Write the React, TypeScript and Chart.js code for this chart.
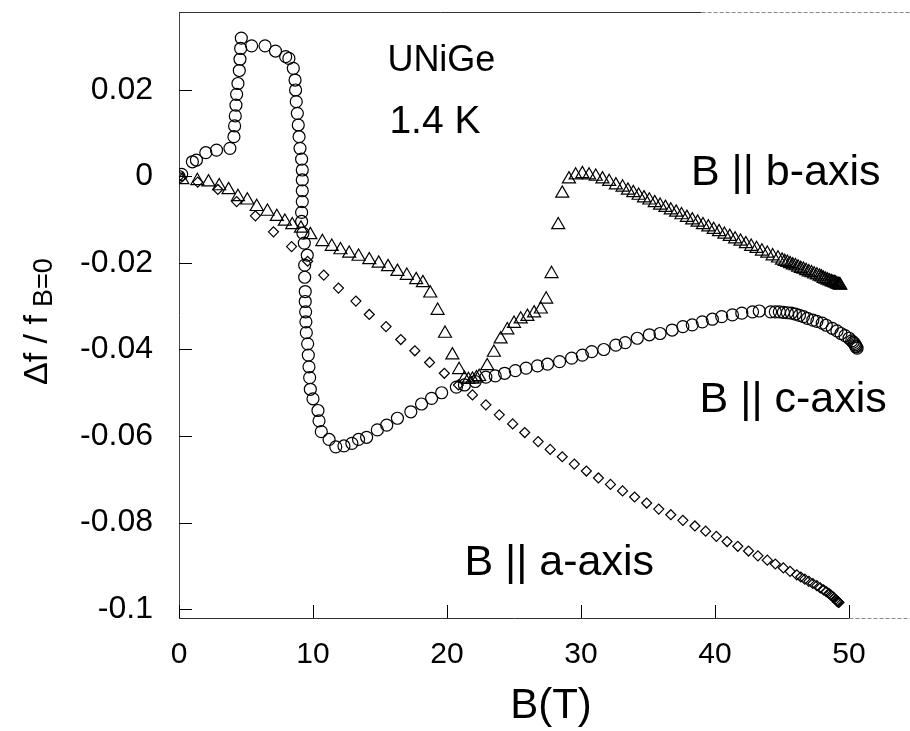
import { useEffect, useRef } from "react";
import { Chart, registerables } from "chart.js";

Chart.register(...registerables);

// Axis ticks
const X_TICKS = [0, 10, 20, 30, 40, 50];
const Y_TICKS = [-0.1, -0.08, -0.06, -0.04, -0.02, 0, 0.02];
const Y_TICK_LABELS = ["-0.1", "-0.08", "-0.06", "-0.04", "-0.02", "0", "0.02"];

// B || c-axis (circles): field B (T) and Δf / f
const C_AXIS_B = [
  0, 0.2, 1.0, 1.3, 2.0, 2.8, 3.8, 4.1, 4.15, 4.2, 4.25, 4.3, 4.4, 4.5, 4.55, 4.6, 4.65,
  5.42, 6.42, 7.2, 7.96, 8.2, 8.53, 8.66, 8.7, 8.75, 8.83, 8.9, 8.96, 9.03, 9.15, 9.2, 9.2,
  9.2, 9.2, 9.15, 9.15, 9.25, 9.35, 9.57, 9.38, 9.38, 9.42, 9.42, 9.45, 9.47, 9.5, 9.6,
  9.65, 9.7, 9.75, 9.8, 10.0, 10.37, 10.45, 10.62, 11.2, 11.7, 12.31, 12.9, 13.4, 14.0,
  14.8, 15.5, 16.3, 17.3, 18.1, 18.85, 19.6, 20.7, 21.3, 22.1, 22.9, 23.6, 24.3, 25.1,
  25.9, 26.75, 27.5, 28.4, 29.3, 30.1, 30.8, 31.7, 32.6, 33.3, 34.2, 35.1, 35.9, 36.8,
  37.6, 38.3, 39.05, 39.8, 40.5, 41.3, 42.0, 42.8, 43.3, 44.15, 44.5, 44.8, 45.1, 45.4,
  45.7, 46.0, 46.3, 46.6, 46.9, 47.3, 47.6, 48.0, 48.3, 48.75, 49.1, 49.4, 49.7, 50.0,
  50.2, 50.3, 50.4, 50.45, 50.5, 50.55, 50.6,
];
const C_AXIS_DF = [
  0, 0.0005, 0.0034, 0.0038, 0.0055, 0.0061, 0.0065, 0.0092, 0.0117, 0.014, 0.0165, 0.019,
  0.0215, 0.0245, 0.0271, 0.0296, 0.032, 0.0302, 0.0302, 0.029, 0.0277, 0.0273, 0.025,
  0.0223, 0.02, 0.0173, 0.0146, 0.0119, 0.0092, 0.0065, 0.004, 0.0015, -0.0008, -0.0033,
  -0.0058, -0.0083, -0.0104, -0.0131, -0.0154, -0.0182, -0.0205, -0.0233, -0.0266,
  -0.0289, -0.0313, -0.0336, -0.0361, -0.0387, -0.0413, -0.044, -0.0465, -0.0492,
  -0.0514, -0.0541, -0.0565, -0.059, -0.0608, -0.0625, -0.0623, -0.0617, -0.0608,
  -0.0603, -0.0586, -0.0575, -0.0559, -0.0544, -0.0526, -0.0513, -0.05, -0.0487,
  -0.0482, -0.0474, -0.0464, -0.0461, -0.0455, -0.0449, -0.0443, -0.0438, -0.0434,
  -0.0428, -0.042, -0.0413, -0.0405, -0.04, -0.039, -0.0384, -0.0374, -0.0366, -0.0363,
  -0.0355, -0.0347, -0.0343, -0.0336, -0.033, -0.0324, -0.032, -0.0316, -0.0313,
  -0.0311, -0.0313, -0.0313, -0.0313, -0.0314, -0.0315, -0.0316, -0.0318, -0.0321,
  -0.0324, -0.0328, -0.0332, -0.0335, -0.0339, -0.0344, -0.0351, -0.0357, -0.0363,
  -0.0368, -0.0374, -0.038, -0.0383, -0.0386, -0.0389, -0.0392, -0.0394, -0.0397,
];

// B || b-axis (triangles)
const B_AXIS_B = [
  0.25, 1.37, 2.2, 3.0, 3.7, 4.4, 5.1, 5.8, 6.6, 7.3, 7.9, 8.45, 9.1, 9.8, 10.7, 11.4,
  12.05, 12.7, 13.4, 14.2, 14.9, 15.6, 16.3, 17.0, 17.7, 18.2, 18.75, 19.3, 19.85, 20.4,
  20.9, 21.3, 21.6, 21.9, 22.2, 22.4, 23.0, 23.5, 24.0, 24.5, 25.0, 25.5, 26.0, 26.5,
  27.0, 27.4, 27.8, 28.3, 28.6, 29.1, 29.6, 30.1, 30.6, 31.1, 31.6, 32.1, 32.6, 33.1,
  33.5, 33.9, 34.3, 34.7, 35.1, 35.5, 35.9, 36.3, 36.7, 37.1, 37.5, 37.9, 38.3, 38.7,
  39.1, 39.5, 39.9, 40.3, 40.7, 41.1, 41.5, 41.9, 42.3, 42.7, 43.1, 43.5, 43.9, 44.3,
  44.7, 45.0, 45.2, 45.4, 45.6, 45.8, 46.0, 46.2, 46.4, 46.6, 46.8, 47.0, 47.2, 47.4,
  47.6, 47.8, 47.95, 48.1, 48.25, 48.4, 48.55, 48.7, 48.8, 48.9, 49.0, 49.1, 49.2, 49.3,
  49.35,
];
const B_AXIS_DF = [
  -0.0008, -0.001, -0.0013, -0.0022, -0.0031, -0.0047, -0.0055, -0.007, -0.0081,
  -0.0093, -0.0104, -0.0112, -0.012, -0.0135, -0.0151, -0.0162, -0.017, -0.0178,
  -0.0185, -0.0193, -0.0201, -0.0209, -0.022, -0.0229, -0.0239, -0.0246, -0.027,
  -0.031, -0.0363, -0.0413, -0.0447, -0.0467, -0.047, -0.0469, -0.0466, -0.0463,
  -0.0438, -0.0407, -0.0376, -0.0355, -0.034, -0.033, -0.0324, -0.0316, -0.0307,
  -0.0284, -0.0225, -0.0112, -0.0039, -0.0006, 0.0003, 0.0006, 0.0003, 0, -0.0006,
  -0.0012, -0.002, -0.0025, -0.0032, -0.0038, -0.0044, -0.005, -0.0055, -0.0061,
  -0.0067, -0.0072, -0.0078, -0.0083, -0.0089, -0.0095, -0.0101, -0.0106, -0.0112,
  -0.0117, -0.0123, -0.0128, -0.0134, -0.0139, -0.0145, -0.015, -0.0156, -0.0162,
  -0.0167, -0.0173, -0.0178, -0.0184, -0.0189, -0.0194, -0.0197, -0.0199, -0.0202,
  -0.0205, -0.0207, -0.021, -0.0213, -0.0215, -0.0218, -0.0221, -0.0223, -0.0226,
  -0.0228, -0.0231, -0.0233, -0.0236, -0.0238, -0.024, -0.0242, -0.0244, -0.0245,
  -0.0246, -0.0247, -0.0249, -0.025, -0.0251, -0.0252,
];

// B || a-axis (diamonds)
const A_AXIS_B = [
  0, 1.4, 2.9, 4.3, 5.7, 7.05, 8.4, 9.6, 10.8, 11.9, 13.2, 14.2, 15.45, 16.55, 17.6, 18.7,
  19.8, 20.85, 21.9, 22.9, 23.9, 24.9, 25.8, 26.8, 27.7, 28.6, 29.5, 30.4, 31.3, 32.2,
  33.1, 34.0, 34.9, 35.8, 36.7, 37.6, 38.5, 39.3, 40.1, 40.9, 41.7, 42.5, 43.2, 43.9,
  44.5, 45.1, 45.6, 46.1, 46.4, 46.7, 47.0, 47.3, 47.6, 47.85, 48.1, 48.3, 48.5, 48.65,
  48.8, 48.9, 49.0, 49.1, 49.15, 49.2, 49.25,
];
const A_AXIS_DF = [
  0, -0.0013, -0.003, -0.0058, -0.0091, -0.0128, -0.0162, -0.0196, -0.0228, -0.0258,
  -0.0288, -0.0319, -0.0347, -0.0377, -0.0403, -0.043, -0.0455, -0.0482, -0.0505,
  -0.0528, -0.0551, -0.0572, -0.0592, -0.0613, -0.0631, -0.0648, -0.0665, -0.0681,
  -0.0697, -0.0712, -0.0727, -0.0741, -0.0755, -0.0769, -0.0782, -0.0795, -0.0808,
  -0.082, -0.0832, -0.0844, -0.0855, -0.0866, -0.0877, -0.0887, -0.0896, -0.0905,
  -0.0913, -0.0921, -0.0926, -0.0931, -0.0936, -0.0941, -0.0946, -0.0951, -0.0956,
  -0.096, -0.0964, -0.0968, -0.0972, -0.0975, -0.0978, -0.0981, -0.0983, -0.0984,
  -0.0985,
];

const FONT = '"Liberation Sans", Arial, Helvetica, sans-serif';
const INK = "#000";

// Text placed on the plot, anchored in data coordinates (left edge, baseline)
const NOTES = [
  { text: "UNiGe", x: 15.55, y: 0.0245, size: 36 },
  { text: "1.4 K", x: 15.7, y: 0.0101, size: 39 },
  { text: "B || b-axis", x: 38.2, y: -0.002, size: 43 },
  { text: "B || c-axis", x: 38.85, y: -0.0545, size: 43 },
  { text: "B || a-axis", x: 21.3, y: -0.0921, size: 43 },
];

const toPoints = (xs: number[], ys: number[]) => xs.map((x, i) => ({ x, y: ys[i] }));

// Pin an axis box to a fixed thickness and drop the label overhang padding
const pin = (size: number, horizontal: boolean) => (s: any) => {
  if (horizontal) s.height = size;
  else s.width = size;
  s.paddingTop = 0;
  s.paddingBottom = 0;
  s.paddingLeft = 0;
  s.paddingRight = 0;
};

const decorations = {
  id: "decorations",
  afterDraw(chart: any) {
    const { ctx, chartArea, scales } = chart;
    const xs = scales.x;
    const ys = scales.y;
    const { left, right, top, bottom } = chartArea;
    ctx.save();

    // frame: solid bottom line up to the last tick, fainter dashed beyond it
    const xEnd = Math.round(xs.getPixelForValue(50)) + 0.5;
    const yB = Math.round(bottom) + 0.5;
    const yT = Math.round(top) + 0.5;
    ctx.lineWidth = 1;
    ctx.strokeStyle = "#333";
    ctx.beginPath();
    ctx.moveTo(left, yB);
    ctx.lineTo(xEnd, yB);
    ctx.stroke();
    const xTopEnd = xs.getPixelForValue(39);
    ctx.beginPath();
    ctx.moveTo(left, yT);
    ctx.lineTo(xTopEnd, yT);
    ctx.stroke();
    ctx.strokeStyle = "#888";
    ctx.setLineDash([4, 2]);
    ctx.beginPath();
    ctx.moveTo(xEnd, yB);
    ctx.lineTo(right, yB);
    ctx.moveTo(xTopEnd, yT);
    ctx.lineTo(right, yT);
    ctx.stroke();
    ctx.setLineDash([]);

    // inward tick marks
    ctx.strokeStyle = INK;
    Y_TICKS.forEach((v) => {
      const py = Math.round(ys.getPixelForValue(v)) + 0.5;
      ctx.beginPath();
      ctx.moveTo(left, py);
      ctx.lineTo(left + 13, py);
      ctx.stroke();
    });
    X_TICKS.forEach((v) => {
      const px = Math.round(xs.getPixelForValue(v)) + 0.5;
      ctx.beginPath();
      ctx.moveTo(px, bottom);
      ctx.lineTo(px, bottom - 13);
      ctx.stroke();
    });

    // notes
    ctx.fillStyle = INK;
    ctx.textAlign = "left";
    ctx.textBaseline = "alphabetic";
    NOTES.forEach((n) => {
      ctx.font = `${n.size}px ${FONT}`;
      ctx.fillText(n.text, xs.getPixelForValue(n.x), ys.getPixelForValue(n.y));
    });

    // x-axis title
    ctx.font = `42px ${FONT}`;
    ctx.textAlign = "center";
    ctx.fillText("B(T)", 551, 718);

    // y-axis title with subscript
    ctx.translate(47, 385);
    ctx.rotate(-Math.PI / 2);
    ctx.textAlign = "left";
    ctx.font = `34px ${FONT}`;
    const main = "\u0394f / f";
    ctx.fillText(main, 0, 0);
    const w = ctx.measureText(main).width;
    ctx.font = `27px ${FONT}`;
    ctx.fillText("B=0", w + 8, 5);
    ctx.restore();
  },
};

export default function App() {
  const ref = useRef<HTMLCanvasElement | null>(null);

  useEffect(() => {
    if (!ref.current) return;
    const marker = {
      showLine: false,
      borderColor: INK,
      backgroundColor: "rgba(0,0,0,0)",
      pointBorderColor: INK,
      pointBackgroundColor: "rgba(0,0,0,0)",
      pointBorderWidth: 1.2,
    };
    const chart = new Chart(ref.current, {
      type: "scatter",
      data: {
        datasets: [
          { ...marker, label: "B || a-axis", data: toPoints(A_AXIS_B, A_AXIS_DF), pointStyle: "rectRot", pointRadius: 5 },
          { ...marker, label: "B || b-axis", data: toPoints(B_AXIS_B, B_AXIS_DF), pointStyle: "triangle", pointRadius: 7.5 },
          { ...marker, label: "B || c-axis", data: toPoints(C_AXIS_B, C_AXIS_DF), pointStyle: "circle", pointRadius: 6 },
        ],
      },
      plugins: [decorations],
      options: {
        animation: false,
        responsive: false,
        devicePixelRatio: 1,
        layout: { padding: 0, autoPadding: false },
        plugins: { legend: { display: false }, tooltip: { enabled: false } },
        scales: {
          x: {
            type: "linear",
            position: "bottom",
            min: 0,
            max: 54.55,
            afterBuildTicks: (s: any) => {
              s.ticks = X_TICKS.map((value) => ({ value }));
            },
            afterFit: pin(113, true),
            ticks: {
              color: INK,
              font: { family: FONT, size: 30 },
              padding: 19,
              maxRotation: 0,
              autoSkip: false,
              callback: (v: any) => String(v),
            },
            grid: { display: false, drawTicks: false },
            border: { display: false },
          },
          x2: {
            type: "linear",
            position: "top",
            min: 0,
            max: 54.55,
            afterFit: pin(12, true),
            ticks: { display: false },
            grid: { display: false, drawTicks: false },
            border: { display: false },
          },
          y: {
            type: "linear",
            position: "left",
            min: -0.10208,
            max: 0.03803,
            afterBuildTicks: (s: any) => {
              s.ticks = Y_TICKS.map((value) => ({ value }));
            },
            afterFit: pin(179, false),
            ticks: {
              color: INK,
              font: { family: FONT, size: 32 },
              padding: 26,
              autoSkip: false,
              callback: (_v: any, i: number) => Y_TICK_LABELS[i],
            },
            grid: { display: false, drawTicks: false },
            border: { display: true, color: "#444", width: 1 },
          },
        },
      },
    });
    return () => chart.destroy();
  }, []);

  return (
    <div style={{ position: "absolute", left: 0, top: 0, width: 910, height: 731, background: "#fff" }}>
      <canvas ref={ref} width={910} height={731} style={{ display: "block", width: 910, height: 731 }} />
    </div>
  );
}
